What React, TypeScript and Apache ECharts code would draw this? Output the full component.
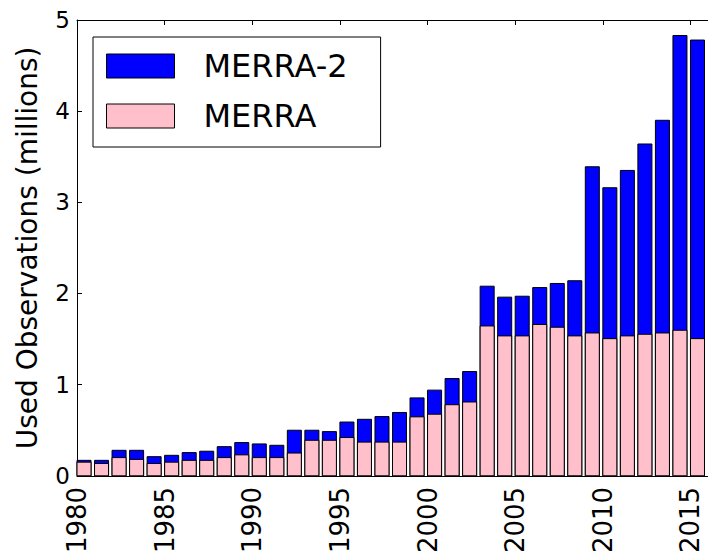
import React, { useEffect, useRef } from "react";
import * as echarts from "echarts";

const years: number[] = [];
for (let y = 1980; y <= 2015; y++) years.push(y);

const merra2 = [
  0.17, 0.17, 0.28, 0.28, 0.21, 0.225, 0.255, 0.27, 0.32, 0.365,
  0.35, 0.335, 0.5, 0.5, 0.485, 0.59, 0.62, 0.65, 0.695, 0.855,
  0.94, 1.067, 1.144, 2.08, 1.96, 1.97, 2.065, 2.11, 2.14, 3.39,
  3.16, 3.35, 3.64, 3.9, 4.83, 4.78,
];
const merra = [
  0.15, 0.135, 0.2, 0.18, 0.135, 0.15, 0.17, 0.17, 0.2, 0.23,
  0.2, 0.2, 0.25, 0.39, 0.39, 0.42, 0.37, 0.37, 0.37, 0.647,
  0.676, 0.78, 0.81, 1.644, 1.535, 1.535, 1.66, 1.63, 1.535, 1.567,
  1.505, 1.535, 1.553, 1.567, 1.597, 1.505,
];

const BAR_WIDTH = 0.8;
const FONT = "DejaVu Sans";

function renderBar(params: any, api: any) {
  const x = api.value(0);
  const v = api.value(1);
  const p0 = api.coord([x, 0]);
  const p1 = api.coord([x + BAR_WIDTH, v]);
  return {
    type: "rect",
    shape: { x: p0[0], y: p1[1], width: p1[0] - p0[0], height: p0[1] - p1[1] },
    style: api.style(),
  };
}

export default function App() {
  const ref = useRef<HTMLDivElement>(null);
  useEffect(() => {
    const chart = echarts.init(ref.current!, undefined, { renderer: "svg" });
    chart.setOption({
      animation: false,
      backgroundColor: "#fff",
      grid: { left: 77, top: 20, width: 637, height: 456 },
      legend: {
        orient: "vertical",
        left: 93,
        top: 37,
        padding: [13, 33, 15, 13],
        itemWidth: 68,
        itemHeight: 24,
        itemGap: 18,
        backgroundColor: "#fff",
        borderColor: "#000",
        borderWidth: 1,
        textStyle: {
          color: "#000",
          fontFamily: FONT,
          fontSize: 32,
          padding: [0, 0, 0, 24],
        },
        data: [
          { name: "MERRA-2", icon: "rect", itemStyle: { color: "#0000ff", borderColor: "#000", borderWidth: 1 } },
          { name: "MERRA", icon: "rect", itemStyle: { color: "#ffc0cb", borderColor: "#000", borderWidth: 1 } },
        ],
      },
      xAxis: [
        {
          type: "value",
          min: 1980,
          max: 2016,
          interval: 5,
          position: "bottom",
          splitLine: { show: false },
          axisLine: { show: true, lineStyle: { color: "#000", width: 1 } },
          axisTick: { show: true, inside: true, length: 5, lineStyle: { color: "#000" } },
          axisLabel: {
            color: "#000",
            fontFamily: FONT,
            fontSize: 26,
            rotate: 90,
            margin: 11,
            formatter: (v: number) => String(v),
          },
        },
        {
          type: "value",
          min: 1980,
          max: 2016,
          interval: 5,
          position: "top",
          splitLine: { show: false },
          axisLine: { show: true, lineStyle: { color: "#000", width: 1 } },
          axisTick: { show: true, inside: true, length: 5, lineStyle: { color: "#000" } },
          axisLabel: { show: false },
        },
      ],
      yAxis: [
        {
          type: "value",
          min: 0,
          max: 5,
          interval: 1,
          name: "Used Observations (millions)",
          nameLocation: "middle",
          nameRotate: 90,
          nameGap: 36,
          nameTextStyle: { color: "#000", fontFamily: FONT, fontSize: 28 },
          splitLine: { show: false },
          axisLine: { show: true, lineStyle: { color: "#000", width: 1 } },
          axisTick: { show: true, inside: true, length: 5, lineStyle: { color: "#000" } },
          axisLabel: { color: "#000", fontFamily: FONT, fontSize: 23, margin: 7 },
        },
      ],
      series: [
        {
          name: "MERRA-2",
          type: "custom",
          renderItem: renderBar,
          itemStyle: { color: "#0000ff", borderColor: "#000", borderWidth: 1 },
          encode: { x: 0, y: 1 },
          data: years.map((y, i) => [y, merra2[i]]),
          z: 2,
        },
        {
          name: "MERRA",
          type: "custom",
          renderItem: renderBar,
          itemStyle: { color: "#ffc0cb", borderColor: "#000", borderWidth: 1 },
          encode: { x: 0, y: 1 },
          data: years.map((y, i) => [y, merra[i]]),
          z: 3,
        },
      ],
    });
    return () => chart.dispose();
  }, []);
  return (
    <div
      ref={ref}
      style={{ position: "fixed", left: 0, top: 0, width: 708, height: 556 }}
    />
  );
}
